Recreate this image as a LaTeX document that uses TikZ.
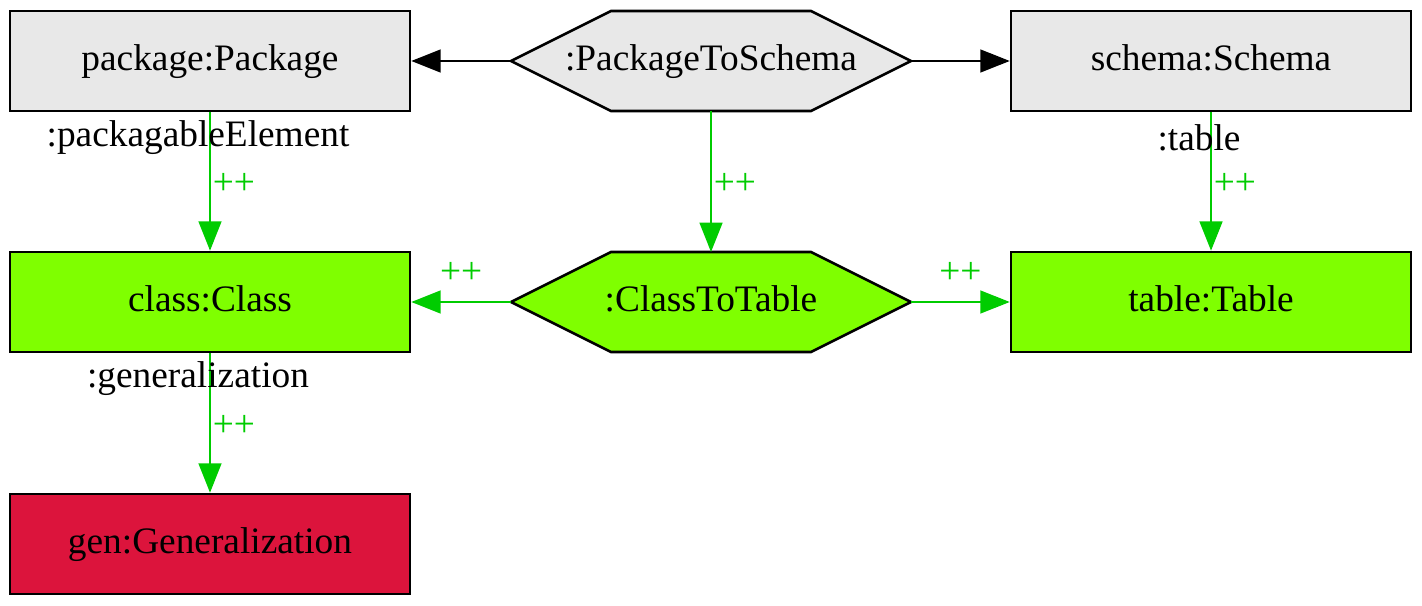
\documentclass[tikz,border=0pt]{standalone}
\usepackage{fontspec}
\setmainfont{Liberation Serif}
\usetikzlibrary{arrows.meta,backgrounds,positioning}
\definecolor{boxgray}{HTML}{E8E8E8}
\definecolor{boxgreen}{HTML}{7FFF00}
\definecolor{boxred}{HTML}{DC143C}
\definecolor{edgegreen}{HTML}{00CC00}
\tikzset{
  gvfont/.style={font=\fontsize{14}{16}\selectfont},
  objbox/.style={gvfont, draw, line width=0.95pt, minimum width=150pt, minimum height=37.5pt, inner sep=0pt, text height=9.6pt, text depth=2.4pt},
  rulenode/.style={gvfont, minimum width=150pt, minimum height=37.5pt, inner sep=0pt, outer sep=0pt, text height=9.6pt, text depth=2.4pt},
  link/.style={line width=0.95pt, -{Triangle[length=11pt,width=8.5pt]}},
  newlink/.style={link, edgegreen},
  plus/.style={gvfont, text=edgegreen, inner sep=0pt},
  role/.style={gvfont, text=black, inner sep=0pt, xshift=-4.5pt, yshift=-9.5pt}
}
% hexagon round a rule node: name, fill
\newcommand{\hexframe}[2]{%
  \begin{scope}[on background layer]
  \filldraw[fill=#2, line width=0.95pt] (#1.west) -- ([xshift=37.5pt]#1.north west)
    -- ([xshift=-37.5pt]#1.north east) -- (#1.east) -- ([xshift=-37.5pt]#1.south east)
    -- ([xshift=37.5pt]#1.south west) -- cycle;
  \end{scope}}
\begin{document}
\begin{tikzpicture}[x=0.375pt,y=-0.375pt]
\useasboundingbox (0,0) rectangle (1422,606);
% top row
\node[objbox, fill=boxgray] (pkg) at (210,61) {package:Package};
\node[rulenode] (p2s) at (711,61) {:PackageToSchema};
\hexframe{p2s}{boxgray}
\node[objbox, fill=boxgray] (sch) at (1211,61) {schema:Schema};
% middle row
\node[objbox, fill=boxgreen] (cls) at (210,302) {class:Class};
\node[rulenode] (c2t) at (711,302) {:ClassToTable};
\hexframe{c2t}{boxgreen}
\node[objbox, fill=boxgreen] (tbl) at (1211,302) {table:Table};
% bottom row
\node[objbox, fill=boxred] (gen) at (210,544) {gen:Generalization};
%
\draw[link] (p2s.west) -- (pkg.east);
\draw[link] (p2s.east) -- (sch.west);
\draw[newlink] (p2s.south) -- (c2t.north) node[midway, plus, anchor=west, xshift=0.6pt, yshift=-1pt]{++};
\draw[newlink] (pkg.south) -- (cls.north) node[pos=0, role]{:packagableElement}
  node[midway, plus, anchor=west, xshift=0.6pt, yshift=-1pt]{++};
\draw[newlink] (sch.south) -- (tbl.north) node[pos=0, role]{:table}
  node[midway, plus, anchor=west, xshift=0.6pt, yshift=-1pt]{++};
\draw[newlink] (c2t.west) -- (cls.east) node[midway, plus, yshift=11pt]{++};
\draw[newlink] (c2t.east) -- (tbl.west) node[midway, plus, yshift=11pt]{++};
\draw[newlink] (cls.south) -- (gen.north) node[pos=0, role]{:generalization}
  node[midway, plus, anchor=west, xshift=0.6pt, yshift=-1pt]{++};
\end{tikzpicture}
\end{document}
